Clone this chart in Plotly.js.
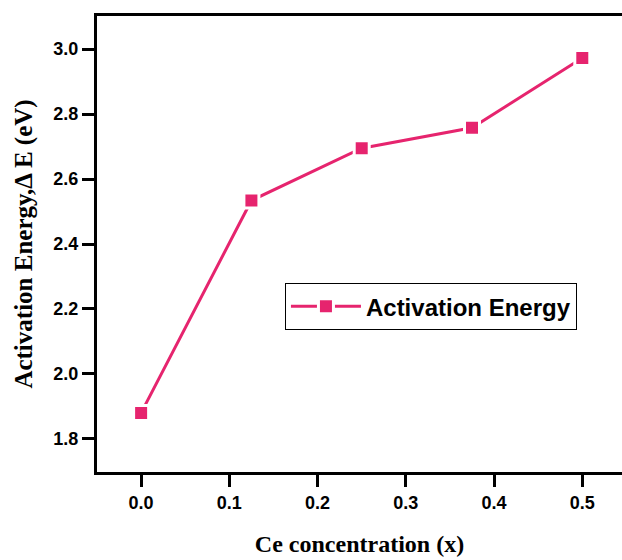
<!DOCTYPE html>
<html>
<head>
<meta charset="utf-8">
<script src="https://cdn.plot.ly/plotly-3.0.1.min.js"></script>
<style>html,body{margin:0;padding:0;background:#fff;}#chart{width:622px;height:560px;}</style>
</head>
<body>
<div id="chart"></div>
<script>
const ceConcentration = [0, 0.125, 0.25, 0.375, 0.5];
const activationEnergy = [1.88, 2.534, 2.695, 2.758, 2.973];
const seriesName = 'Activation Energy';
const xTickVals = [0, 0.1, 0.2, 0.3, 0.4, 0.5];
const xTickText = ['0.0', '0.1', '0.2', '0.3', '0.4', '0.5'];
const yTickVals = [1.8, 2.0, 2.2, 2.4, 2.6, 2.8, 3.0];
const yTickText = ['1.8', '2.0', '2.2', '2.4', '2.6', '2.8', '3.0'];

const pink = '#E6246E';
const trace = {
  x: ceConcentration,
  y: activationEnergy,
  name: seriesName,
  type: 'scatter',
  mode: 'lines+markers',
  line: {color: pink, width: 3},
  marker: {symbol: 'square', size: 15, color: pink, line: {color: '#ffffff', width: 3}},
  showlegend: true
};

const tickFont = {family: 'Arial, Liberation Sans, sans-serif', size: 18, color: '#000', weight: 'bold'};
const xTitleFont = {family: 'Times New Roman, Liberation Serif, serif', size: 24, color: '#000', weight: 'bold'};
const yTitleFont = {family: 'Times New Roman, Liberation Serif, serif', size: 25, color: '#000', weight: 'bold'};

const layout = {
  width: 622,
  height: 560,
  margin: {l: 97, r: 0, t: 16, b: 88},
  paper_bgcolor: '#ffffff',
  plot_bgcolor: '#ffffff',
  showlegend: true,
  legend: {
    x: 0.358, y: 0.414, xanchor: 'left', yanchor: 'top',
    bordercolor: '#000000', borderwidth: 1, bgcolor: '#ffffff',
    font: {family: 'Arial, Liberation Sans, sans-serif', size: 24, color: '#000', weight: 'bold'},
    itemwidth: 70
  },
  xaxis: {
    range: [-0.05, 0.545],
    tickvals: xTickVals,
    ticktext: xTickText,
    ticks: 'outside', ticklen: 12, tickwidth: 3, tickcolor: '#000',
    showline: true, linewidth: 3, linecolor: '#000', mirror: true,
    showgrid: false, zeroline: false,
    tickfont: tickFont,
    title: {text: 'Ce concentration (x)', standoff: 24, font: xTitleFont},
    automargin: false
  },
  yaxis: {
    range: [1.698, 3.102],
    tickvals: yTickVals,
    ticktext: yTickText,
    ticks: 'outside', ticklen: 12, tickwidth: 3, tickcolor: '#000',
    showline: true, linewidth: 3, linecolor: '#000', mirror: false,
    showgrid: false, zeroline: false,
    tickfont: tickFont,
    title: {text: 'Activation Energy,Δ E (eV)', standoff: 14, font: yTitleFont},
    automargin: false
  }
};

Plotly.newPlot('chart', [trace], layout, {staticPlot: true, displayModeBar: false});
</script>
</body>
</html>
